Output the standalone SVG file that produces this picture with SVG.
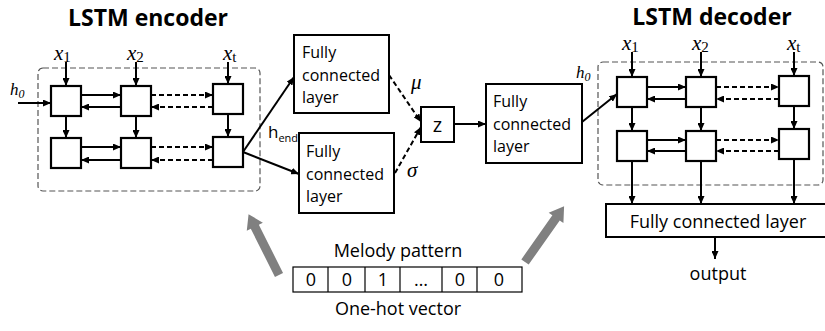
<svg xmlns="http://www.w3.org/2000/svg" width="825" height="331" viewBox="0 0 825 331">
  <style>
    .title { font-family: "Open Sans", "Liberation Sans", sans-serif; font-weight: bold; font-size: 23px; fill: #000; }
    .lbl { font-family: "Open Sans", "Liberation Sans", sans-serif; font-size: 16px; fill: #000; }
    .lbl18 { font-family: "Open Sans", "Liberation Sans", sans-serif; font-size: 18px; fill: #000; }
    .math { font-family: "Liberation Serif", "DejaVu Serif", serif; font-style: italic; font-size: 21px; fill: #000; }
    .sub { font-family: "Liberation Serif", "DejaVu Serif", serif; font-style: normal; font-size: 15px; fill: #000; }
    .hm { font-family: "Liberation Serif", "DejaVu Serif", serif; font-style: italic; font-size: 17px; fill: #000; }
    .hsub { font-family: "Liberation Serif", "DejaVu Serif", serif; font-size: 12px; fill: #000; }
    .cell { fill: #fff; stroke: #000; stroke-width: 2.2; }
    .box { fill: #fff; stroke: #000; stroke-width: 2; }
    .group { fill: none; stroke: #555; stroke-width: 1.2; stroke-dasharray: 6 3; }
    .arr { fill: none; stroke: #000; stroke-width: 2; marker-end: url(#ah); }
    .darr { fill: none; stroke: #000; stroke-width: 2; stroke-dasharray: 5 3; marker-end: url(#ah); }
    .thin { fill: none; stroke: #000; stroke-width: 1.2; }
  </style>
  <defs>
    <marker id="ah" markerUnits="userSpaceOnUse" markerWidth="8" markerHeight="7" refX="8" refY="3.5" orient="auto">
      <path d="M0,0 L8,3.5 L0,7 z" fill="#000"/>
    </marker>
    <!-- wide grey arrow pointing along +x, tail at origin -->
    <polygon id="bigArrow" points="0,-4.5 54,-4.5 54,-9 68,0 54,9 54,4.5 0,4.5" fill="#808080"/>
  </defs>

  <rect width="825" height="331" fill="#fff"/>

  <!-- encoder -->
  <g id="encoder">
    <text class="title" x="148" y="26" text-anchor="middle">LSTM encoder</text>
    <rect class="group" x="38" y="68" width="222" height="123" rx="5"/>
    <rect class="cell" x="51" y="86" width="30" height="30"/>
    <rect class="cell" x="121" y="86" width="30" height="30"/>
    <rect class="cell" x="213" y="84" width="30" height="30"/>
    <rect class="cell" x="51" y="138" width="30" height="30"/>
    <rect class="cell" x="121" y="138" width="30" height="30"/>
    <rect class="cell" x="213" y="137" width="30" height="30"/>
    <text class="math" x="54" y="60">x<tspan class="sub" dy="2">1</tspan></text>
    <text class="math" x="127" y="60">x<tspan class="sub" dy="2">2</tspan></text>
    <text class="math" x="223" y="60">x<tspan class="sub" dy="2">t</tspan></text>
    <text class="hm" x="10" y="95">h<tspan class="hsub" dy="3">0</tspan></text>
  </g>

  <!-- decoder -->
  <g id="decoder">
    <text class="title" x="712" y="25" text-anchor="middle">LSTM decoder</text>
    <rect class="group" x="598" y="62" width="225" height="123" rx="5"/>
    <rect class="cell" x="617" y="77" width="30" height="30"/>
    <rect class="cell" x="686" y="77" width="30" height="30"/>
    <rect class="cell" x="779" y="76" width="30" height="30"/>
    <rect class="cell" x="617" y="131" width="30" height="30"/>
    <rect class="cell" x="686" y="131" width="30" height="30"/>
    <rect class="cell" x="779" y="129" width="30" height="30"/>
    <text class="math" x="622" y="50">x<tspan class="sub" dy="2">1</tspan></text>
    <text class="math" x="692" y="50">x<tspan class="sub" dy="2">2</tspan></text>
    <text class="math" x="787" y="50">x<tspan class="sub" dy="2">t</tspan></text>
    <text class="hm" x="576" y="78">h<tspan class="hsub" dy="3">0</tspan></text>
  </g>

  <!-- fully connected layers -->
  <g id="fc-mu">
    <rect class="box" x="294" y="35" width="95" height="78"/>
    <text class="lbl" x="302" y="58">Fully</text>
    <text class="lbl" x="302" y="81">connected</text>
    <text class="lbl" x="302" y="103">layer</text>
  </g>
  <g id="fc-sigma">
    <rect class="box" x="299" y="133" width="95" height="80"/>
    <text class="lbl" x="306" y="157">Fully</text>
    <text class="lbl" x="306" y="180">connected</text>
    <text class="lbl" x="306" y="202">layer</text>
  </g>
  <g id="z">
    <rect class="box" x="421" y="107" width="33" height="35"/>
    <text class="lbl" x="437.5" y="132" text-anchor="middle" style="font-size:20px">z</text>
  </g>
  <g id="fc-z">
    <rect class="box" x="486" y="84" width="96" height="79"/>
    <text class="lbl" x="493" y="107">Fully</text>
    <text class="lbl" x="493" y="130">connected</text>
    <text class="lbl" x="493" y="152">layer</text>
  </g>
  <g id="fc-out">
    <rect class="box" x="606" y="204" width="225" height="33"/>
    <text class="lbl18" x="718" y="228" text-anchor="middle">Fully connected layer</text>
    <text class="lbl18" x="718" y="280" text-anchor="middle">output</text>
  </g>

  <!-- melody input vector -->
  <g id="melody">
    <text class="lbl18" x="398" y="257" text-anchor="middle">Melody pattern</text>
    <rect x="293" y="267" width="229" height="25" fill="#fff" stroke="#000" stroke-width="1.2"/>
    <line class="thin" x1="328" y1="267" x2="328" y2="292"/>
    <line class="thin" x1="365" y1="267" x2="365" y2="292"/>
    <line class="thin" x1="400" y1="267" x2="400" y2="292"/>
    <line class="thin" x1="442" y1="267" x2="442" y2="292"/>
    <line class="thin" x1="477" y1="267" x2="477" y2="292"/>
    <g class="lbl18" text-anchor="middle">
      <text x="311" y="286">0</text>
      <text x="347" y="286">0</text>
      <text x="383" y="286">1</text>
      <text x="421" y="286">…</text>
      <text x="460" y="286">0</text>
      <text x="499" y="286">0</text>
    </g>
    <text class="lbl18" x="398" y="315" text-anchor="middle">One-hot vector</text>
  </g>

  <!-- connectors -->
  <g id="connectors">
    <!-- encoder inputs -->
    <line class="arr" x1="66" y1="62" x2="66" y2="86"/>
    <line class="arr" x1="136" y1="62" x2="136" y2="86"/>
    <line class="arr" x1="228" y1="62" x2="228" y2="84"/>
    <line class="arr" x1="18" y1="103" x2="51" y2="103"/>
    <!-- encoder row 1 -->
    <line class="arr" x1="81" y1="95" x2="121" y2="95"/>
    <line class="arr" x1="121" y1="107" x2="81" y2="107"/>
    <line class="darr" x1="151" y1="95" x2="213" y2="95"/>
    <line class="darr" x1="213" y1="107" x2="151" y2="107"/>
    <!-- encoder row 2 -->
    <line class="arr" x1="81" y1="147" x2="121" y2="147"/>
    <line class="arr" x1="121" y1="160" x2="81" y2="160"/>
    <line class="darr" x1="151" y1="147" x2="213" y2="147"/>
    <line class="darr" x1="213" y1="160" x2="151" y2="160"/>
    <!-- encoder verticals -->
    <line class="arr" x1="66" y1="116" x2="66" y2="138"/>
    <line class="arr" x1="136" y1="116" x2="136" y2="138"/>
    <line class="arr" x1="228" y1="114" x2="228" y2="137"/>
    <!-- h_end to the two heads -->
    <line class="arr" x1="243" y1="152" x2="294" y2="77"/>
    <line class="arr" x1="243" y1="152" x2="299" y2="174"/>
    <text x="268" y="138" font-family="Open Sans, Liberation Sans, sans-serif" font-size="17">h<tspan font-size="11" dy="4">end</tspan></text>
    <!-- mu / sigma to z -->
    <line class="darr" x1="389" y1="75" x2="421" y2="122"/>
    <line class="darr" x1="395" y1="173" x2="421" y2="127"/>
    <text class="math" x="411" y="89">μ</text>
    <text class="math" x="407" y="177">σ</text>
    <line class="arr" x1="454" y1="124" x2="486" y2="124"/>
    <!-- into decoder -->
    <line class="arr" x1="582" y1="122" x2="617" y2="94"/>
    <!-- decoder inputs -->
    <line class="arr" x1="632" y1="52" x2="632" y2="77"/>
    <line class="arr" x1="701" y1="52" x2="701" y2="77"/>
    <line class="arr" x1="794" y1="52" x2="794" y2="76"/>
    <!-- decoder row 1 -->
    <line class="arr" x1="647" y1="87" x2="686" y2="87"/>
    <line class="arr" x1="686" y1="99" x2="647" y2="99"/>
    <line class="darr" x1="716" y1="87" x2="779" y2="87"/>
    <line class="darr" x1="779" y1="99" x2="716" y2="99"/>
    <!-- decoder row 2 -->
    <line class="arr" x1="647" y1="140" x2="686" y2="140"/>
    <line class="arr" x1="686" y1="151" x2="647" y2="151"/>
    <line class="darr" x1="716" y1="140" x2="779" y2="140"/>
    <line class="darr" x1="779" y1="151" x2="716" y2="151"/>
    <!-- decoder verticals -->
    <line class="arr" x1="632" y1="107" x2="632" y2="131"/>
    <line class="arr" x1="701" y1="107" x2="701" y2="131"/>
    <line class="arr" x1="794" y1="106" x2="794" y2="129"/>
    <!-- decoder outputs -->
    <line class="arr" x1="632" y1="161" x2="632" y2="204"/>
    <line class="arr" x1="701" y1="161" x2="701" y2="204"/>
    <line class="arr" x1="794" y1="159" x2="794" y2="204"/>
    <line class="arr" x1="715" y1="237" x2="715" y2="259"/>
    <!-- melody feeds both networks -->
    <use href="#bigArrow" transform="translate(279,275) rotate(-116.6)"/>
    <use href="#bigArrow" transform="translate(525,262) rotate(-54.9)"/>
  </g>
</svg>
